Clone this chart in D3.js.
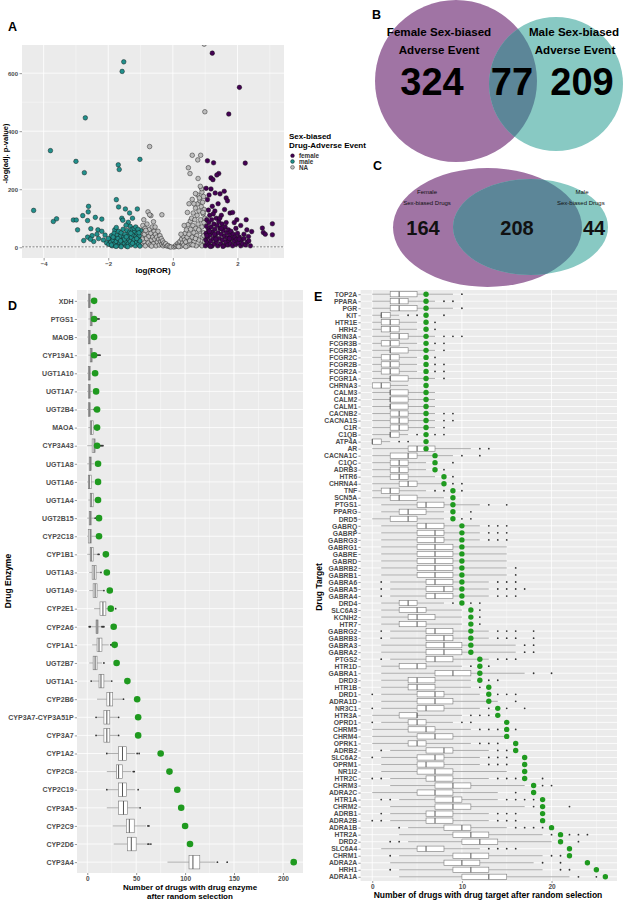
<!DOCTYPE html>
<html><head><meta charset="utf-8">
<script src="https://cdn.jsdelivr.net/npm/d3@7"></script>
<style>body{margin:0;background:#fff}svg{display:block}</style>
</head><body><svg id="c" width="625" height="900"></svg>
<script>
// ---------------- DATA ----------------
// Panel A: volcano points [log(ROR), -log(adj p)]
const volcanoMale = [[-1.52,639],[-1.57,606],[-2.71,446],[-3.79,333],[-3.0,296],[-2.74,257],[-1.69,284],[-1.66,268],[-1.02,303],[-4.31,127],[-3.7,89],[-3.6,98],[-3.08,94],[-2.99,94],[-2.95,60],[-2.61,141],[-2.62,122],[-2.79,109],[-2.64,92],[-2.4,103],[-2.2,97],[-2.54,64],[-2.32,60],[-2.76,23],[-2.64,35],[-1.75,164],[-1.68,139],[-1.47,132],[-1.34,118],[-1.1,132],[-1.58,100],[-1.55,93],[-1.8,60],[-1.75,68],[-1.38,86],[-1.32,72],[-1.45,76],[-1.25,100],[-2.5,40],[-2.45,20],[-2.3,30],[-2.35,45],[-2.15,25],[-2.1,42],[-2.05,15],[-2.55,28],[-2.2,55],
[-1.98,10],[-1.95,28],[-1.9,40],[-1.92,18],[-1.88,5],[-1.85,25],[-1.82,48],[-1.8,12],[-1.78,32],[-1.75,20],[-1.72,42],[-1.7,6],[-1.68,55],[-1.66,28],[-1.64,15],[-1.62,38],[-1.6,50],[-1.58,8],[-1.56,24],[-1.54,62],[-1.52,35],[-1.5,14],[-1.48,45],[-1.46,22],[-1.44,4],[-1.42,58],[-1.4,30],[-1.38,12],[-1.36,40],[-1.34,52],[-1.32,20],[-1.3,8],[-1.28,34],[-1.26,62],[-1.24,44],[-1.22,15],[-1.2,26],[-1.18,55],[-1.16,5],[-1.14,38],[-1.12,18],[-1.1,48],[-1.08,28],[-1.06,10],[-1.04,40],[-1.02,22],[-1.0,58],[-1.02,4],[-1.2,65],[-1.3,48],[-1.5,28],[-1.7,30],[-1.6,2],[-1.85,35],[-1.15,70],[-1.08,62],[-1.9,8],[-2.0,30],[-1.76,3],[-1.4,2],[-1.25,14],[-1.12,30],[-1.05,50],[-1.44,36],[-1.62,22]];
const volcanoNA = [[-0.98,12],[-0.96,35],[-0.95,55],[-0.93,75],[-0.9,20],[-0.88,45],[-0.86,65],[-0.85,5],[-0.82,30],[-0.8,80],[-0.78,52],[-0.76,15],[-0.74,38],[-0.72,62],[-0.7,8],[-0.68,48],[-0.66,25],[-0.64,70],[-0.62,35],[-0.6,12],[-0.58,55],[-0.56,28],[-0.54,45],[-0.52,5],[-0.5,35],[-0.48,18],[-0.46,55],[-0.44,28],[-0.42,8],[-0.4,40],[-0.38,20],[-0.36,30],[-0.34,10],[-0.32,22],[-0.3,5],[-0.28,15],[-0.25,8],[-0.22,12],[-0.18,4],[-0.15,6],[-0.1,2],[-0.06,1],[-0.77,122],[-0.68,109],[-0.72,112],[-0.34,112],[-0.72,347],[-0.9,95],[-0.6,88],[-0.55,70],[-0.95,28],[-0.84,58],[-0.66,4],
[0.03,1],[0.08,3],[0.1,8],[0.14,5],[0.16,14],[0.2,10],[0.22,20],[0.25,4],[0.27,28],[0.3,15],[0.32,38],[0.34,8],[0.36,25],[0.38,48],[0.4,18],[0.42,60],[0.44,35],[0.46,5],[0.47,78],[0.5,45],[0.52,22],[0.54,90],[0.55,62],[0.57,10],[0.58,100],[0.6,35],[0.62,75],[0.63,118],[0.65,50],[0.66,20],[0.68,95],[0.7,135],[0.71,65],[0.72,5],[0.74,40],[0.75,110],[0.77,150],[0.78,80],[0.8,25],[0.81,125],[0.83,55],[0.84,160],[0.86,95],[0.87,10],[0.88,140],[0.9,70],[0.91,35],[0.92,155],[0.94,115],[0.95,50],[0.96,85],[0.97,130],[0.98,20],[0.99,100],[0.5,150],[0.6,165],[0.77,180],[0.9,190],[0.89,202],[0.78,237],[0.48,274],[0.53,254],[0.77,301],[0.6,317],[0.86,317],[0.99,467],[0.97,700],[0.85,210],[0.7,185],[0.45,120],[0.35,75],[0.25,45],[0.65,150],[0.82,170],[0.95,175],[0.9,5],[0.96,40],[0.62,8],[0.4,2],[0.18,2],[0.7,30],[0.8,60],[0.93,120]];
const volcanoFemale = [[1.22,669],[2.06,551],[1.73,459],[2.24,290],[1.07,298],[1.26,291],[1.42,254],[1.36,249],[1.18,239],[1.24,233],[1.03,203],[1.18,201],[1.31,187],[1.46,184],[1.59,193],[1.65,170],[1.69,160],[1.07,164],[1.22,141],[1.77,118],[1.98,95],[2.27,95],[2.29,60],[2.44,54],[2.77,66],[2.8,51],[2.86,45],[3.08,81],[3.08,43],[2.34,37],[1.85,120],[1.6,130],[1.4,150],[1.12,180],[1.5,110],[1.3,125],[1.9,85],[2.1,75],[2.2,45],
[1.01,5],[1.02,25],[1.03,48],[1.04,72],[1.05,95],[1.06,15],[1.08,35],[1.1,60],[1.11,85],[1.12,8],[1.14,110],[1.15,42],[1.17,22],[1.18,70],[1.2,95],[1.21,4],[1.23,52],[1.25,30],[1.27,80],[1.28,12],[1.3,62],[1.32,40],[1.34,100],[1.35,20],[1.37,75],[1.39,5],[1.4,50],[1.42,88],[1.44,30],[1.46,65],[1.48,12],[1.5,45],[1.52,80],[1.54,25],[1.56,58],[1.58,6],[1.6,38],[1.62,70],[1.64,18],[1.66,50],[1.68,32],[1.7,8],[1.72,60],[1.74,22],[1.76,42],[1.78,12],[1.8,55],[1.83,30],[1.85,5],[1.87,45],[1.9,20],[1.92,35],[1.95,10],[1.98,28],[2.0,48],[2.03,15],[2.06,35],[2.1,5],[2.12,25],[2.16,12],[2.2,30],[2.25,8],[2.3,18],[2.35,22],[2.4,5],[1.1,128],[1.25,115],[1.45,100],[1.65,85],[1.95,65],[1.05,40],[1.16,3],[1.33,28],[1.55,3],[1.75,30],[2.05,28],[1.13,55],[1.29,45],[1.5,65]];
const volcanoGroups = ["female","male","NA"];
const volcanoColors = ["#440154","#21908C","#bdbdbd"];
const volcanoXTicks = [-4,-2,0,2];
const volcanoYTicks = [0,200,400,600];

// Panel B / C: Venn counts [female only, both, male only]
const vennBCounts = [324, 77, 209];
const vennCCounts = [164, 208, 44];

// Panel D
const enzymeNames = ["XDH","PTGS1","MAOB","CYP19A1","UGT1A10","UGT1A7","UGT2B4","MAOA","CYP3A43","UGT1A8","UGT1A6","UGT1A4","UGT2B15","CYP2C18","CYP1B1","UGT1A3","UGT1A9","CYP2E1","CYP2A6","CYP1A1","UGT2B7","UGT1A1","CYP2B6","CYP3A7-CYP3A51P","CYP3A7","CYP1A2","CYP2C8","CYP2C19","CYP3A5","CYP2C9","CYP2D6","CYP3A4"];
const enzymeObserved = [7,7,7,7,8,9,10,10,10,11,11,11,12,12,19,20,23,24,27,28,30,41,51,52,52,75,84,92,96,100,105,211];
const enzymeBoxes = [[0,1,2,3,4],[1,3,4,5,8],[0,1,2,3,5],[1,3,4,5,8],[0,1,2,3,4],[0,1,2,3,5],[0,1,2,3,6],[1,3,4,6,9],[0,5,7,8,12],[0,2,3,4,7],[0,1,2,4,7],[1,3,4,6,9],[0,2,3,4,7],[0,1,3,4,9],[0,3,4,6,10],[2,5,7,9,13],[2,6,8,10,16],[7,13,16,19,27],[4,9,10,11,14],[5,10,12,15,22],[2,6,8,10,15],[5,12,14,17,24],[10,20,23,26,36],[10,17,20,23,31],[10,17,20,23,31],[21,32,36,40,49],[20,30,32,36,45],[21,32,36,40,49],[20,32,37,41,53],[26,40,43,48,60],[27,41,45,50,61],[82,104,108,115,131]];
const enzymeOutliers = [[],[9,10,11,12],[],[9,10,11,12,13],[],[],[7,8,9],[],[13,14,15,16],[],[],[],[8,9,10,11],[],[11,12],[14],[17],[29],[2,3,15,16,17],[24,25],[17],[4,25],[37],[9,32],[9,32],[20,51,53],[47,48],[20,52],[54],[62,63],[62,63,65],[133,143]];
const enzymeXTicks = [0,50,100,150,200];

// Panel E
const targetNames = ["TOP2A","PPARA","PGR","KIT","HTR1E","HRH2","GRIN3A","FCGR3B","FCGR3A","FCGR2C","FCGR2B","FCGR2A","FCGR1A","CHRNA3","CALM3","CALM2","CALM1","CACNB2","CACNA1S","C1R","C1QB","ATP4A","AR","CACNA1C","C1QC","ADRB3","HTR6","CHRNA4","TNF","SCN5A","PTGS1","PPARG","DRD5","GABRQ","GABRP","GABRG3","GABRG1","GABRE","GABRD","GABRB2","GABRB1","GABRA6","GABRA5","GABRA4","DRD4","SLC6A3","KCNH2","HTR7","GABRG2","GABRB3","GABRA3","GABRA2","PTGS2","HTR1D","GABRA1","DRD3","HTR1B","DRD1","ADRA1D","NR3C1","HTR3A","OPRD1","CHRM5","CHRM4","OPRK1","ADRB2","SLC6A2","OPRM1","NR1I2","HTR2C","CHRM3","ADRA2C","HTR1A","CHRM2","ADRB1","ADRA2B","ADRA1B","HTR2A","DRD2","SLC6A4","CHRM1","ADRA2A","HRH1","ADRA1A"];
const targetObserved = [6,6,6,6,6,6,6,6,6,6,6,6,6,6,6,6,6,6,6,6,6,6,6,7,7,7,8,8,9,9,9,9,9,10,10,10,10,10,10,10,10,10,10,10,10,11,11,11,11,11,11,11,12,12,12,12,13,13,13,14,14,15,15,15,16,16,17,17,17,17,18,18,19,19,19,19,20,21,21,22,22,24,25,26];
const targetBoxes = [[0,2,3,5,9],[0,2,3,4,7],[0,2,3,5,9],[0,1,1,2,3],[0,1,2,3,5],[0,1,2,3,5],[0,2,3,4,7],[0,1,2,3,5],[0,2,2,4,7],[0,1,2,3,5],[0,1,2,3,5],[0,1,2,3,5],[0,2,2,4,7],[0,0,1,2,4],[0,2,2,4,7],[0,2,2,4,7],[0,2,2,4,7],[0,2,3,4,7],[0,2,3,4,7],[0,2,3,4,7],[0,2,2,3,4],[0,0,0,1,2],[0,4,5,7,11],[0,2,4,5,9],[0,2,3,4,6],[0,2,3,4,6],[0,2,3,4,7],[0,3,4,5,8],[0,1,2,3,6],[0,2,3,5,8],[1,5,6,8,12],[1,3,4,6,8],[0,2,4,5,8],[1,5,6,8,12],[1,5,7,8,12],[1,5,7,8,12],[1,5,7,9,15],[1,5,7,9,15],[1,5,7,9,15],[1,5,7,9,15],[1,5,7,9,15],[2,6,7,9,13],[2,6,8,9,13],[2,6,7,9,13],[1,3,4,5,8],[1,3,5,6,10],[1,4,5,7,10],[1,3,5,6,10],[2,6,7,9,13],[2,6,8,9,13],[1,6,8,10,16],[1,6,8,10,16],[2,6,7,9,13],[1,3,5,6,10],[1,7,9,11,17],[1,4,5,7,11],[1,4,5,7,11],[1,5,7,8,12],[1,5,7,9,14],[1,5,6,8,12],[0,3,5,5,10],[1,4,5,6,9],[0,4,6,7,11],[0,5,7,9,15],[0,4,5,6,11],[2,6,8,9,13],[1,5,7,8,12],[1,5,6,8,12],[1,5,7,9,15],[2,6,7,9,13],[2,7,9,11,17],[0,5,7,9,14],[3,7,9,10,14],[2,7,9,11,17],[2,6,7,9,13],[2,6,7,9,13],[4,8,10,11,15],[3,9,11,13,19],[4,10,12,14,20],[1,5,6,8,12],[3,9,11,13,19],[2,8,10,12,18],[3,9,11,13,19],[3,10,13,15,22]];
const targetOutliers = [[10],[8,9],[10],[4,5,8],[7],[7],[8,9,10],[7,8],[8],[7],[7,8],[7,8],[8],[],[],[],[],[8,9],[8,9],[8],[5,7,8],[3,4],[12,13],[10,12],[9],[8],[9],[9,10],[7,8,10],[],[13,15],[11],[10,11],[13,14,15],[13,14,15],[13,14,15],[],[],[],[16],[16],[1,14,15,16],[1,14,15,16,17],[1,14,15,16],[9,11,12],[12],[12],[12],[1,14,15,16,18],[1,14,15,16,18],[17,18],[17,18],[1,14,15,16],[11,13],[18,20],[13,14],[12],[0,14,15,16],[16],[0,13,15,17],[11,12,13],[0,10,11],[12,13,14,16],[],[12,13,14],[1,14,15],[0,13,14,15],[13,14,15],[],[0,1,14,15,16,19],[19,20],[16],[1,2,15,16,17,18],[18,22],[1,14,15,16],[0,1,14,15,16],[3,16,17,18,19],[20,22,23,24],[2,3,23],[13,14,15,16],[2,20,21],[19,21],[2,21,22],[23,25]];
const targetXTicks = [0,10,20];

// ---------------- DRAWING ----------------
const FONT = '"Liberation Sans", Arial, Helvetica, sans-serif';
const svg = d3.select("#c").attr("font-family", FONT);
const BG = "#ebebeb", AXT = "#4d4d4d", GREEN = "#1f9a1f";

function styleAxis(g, fs) {
  g.select(".domain").remove();
  g.selectAll(".tick line").attr("stroke", "#333").attr("stroke-width", 0.5);
  g.selectAll(".tick text").attr("fill", AXT).attr("font-size", fs).attr("font-weight", "bold").attr("font-family", FONT);
}
function label(x, y, t) {
  svg.append("text").attr("x", x).attr("y", y).attr("font-size", 12.5).attr("font-weight", "bold").text(t);
}
function vlines(g, xs, vals, y0, y1, w) {
  g.selectAll(null).data(vals).join("line").attr("x1", d => xs(d)).attr("x2", d => xs(d))
    .attr("y1", y0).attr("y2", y1).attr("stroke", "#fff").attr("stroke-width", w);
}
function hlines(g, ys, vals, x0, x1, w) {
  g.selectAll(null).data(vals).join("line").attr("y1", d => ys(d)).attr("y2", d => ys(d))
    .attr("x1", x0).attr("x2", x1).attr("stroke", "#fff").attr("stroke-width", w);
}

// ----- Panel A -----
{
  const L = 22, R = 284, T = 45, B = 258;
  const x = d3.scaleLinear().domain([-4.67, 3.44]).range([L, R]);
  const y = d3.scaleLinear().domain([-37, 697]).range([B, T]);
  const g = svg.append("g");
  g.append("rect").attr("x", L).attr("y", T).attr("width", R - L).attr("height", B - T).attr("fill", BG);
  vlines(g, x, [-3, -1, 1, 3], T, B, 0.4);
  hlines(g, y, [100, 300, 500], L, R, 0.4);
  vlines(g, x, volcanoXTicks, T, B, 0.8);
  hlines(g, y, volcanoYTicks, L, R, 0.8);
  svg.append("clipPath").attr("id", "clipA").append("rect").attr("x", L).attr("y", T).attr("width", R - L).attr("height", B - T);
  g.append("line").attr("x1", L).attr("x2", R).attr("y1", y(1.3)).attr("y2", y(1.3))
    .attr("stroke", "#333").attr("stroke-width", 0.6).attr("stroke-dasharray", "2,1.5");
  const pg = g.append("g").attr("clip-path", "url(#clipA)");
  [[volcanoNA, volcanoColors[2]], [volcanoMale, volcanoColors[1]], [volcanoFemale, volcanoColors[0]]].forEach(([pts, col]) => {
    pg.selectAll(null).data(pts).join("circle").attr("cx", d => x(d[0])).attr("cy", d => y(d[1]))
      .attr("r", 2.3).attr("fill", col).attr("stroke", "#111").attr("stroke-width", 0.45);
  });
  const ax = svg.append("g").attr("transform", `translate(0,${B})`).call(d3.axisBottom(x).tickValues(volcanoXTicks).tickSize(2.5).tickPadding(1.5));
  styleAxis(ax, 6);
  const ay = svg.append("g").attr("transform", `translate(${L},0)`).call(d3.axisLeft(y).tickValues(volcanoYTicks).tickSize(2.5).tickPadding(1.5));
  styleAxis(ay, 6);
  svg.append("text").attr("x", (L + R) / 2).attr("y", 273).attr("text-anchor", "middle").attr("font-size", 8).attr("font-weight", "bold").text("log(ROR)");
  svg.append("text").attr("transform", `translate(7.5,${(T + B) / 2 + 2}) rotate(-90)`).attr("text-anchor", "middle").attr("font-size", 7.5).attr("font-weight", "bold").text("-log(adj. p-value)");
  // legend
  svg.append("text").attr("x", 289).attr("y", 139).attr("font-size", 8).attr("font-weight", "bold").text("Sex-biased");
  svg.append("text").attr("x", 289).attr("y", 148).attr("font-size", 8).attr("font-weight", "bold").text("Drug-Adverse Event");
  volcanoGroups.forEach((gname, i) => {
    svg.append("circle").attr("cx", 292.5).attr("cy", 155.7 + i * 5.8).attr("r", 1.9).attr("fill", volcanoColors[i]).attr("stroke", "#111").attr("stroke-width", 0.4);
    svg.append("text").attr("x", 299).attr("y", 157.9 + i * 5.8).attr("font-size", 6.3).attr("font-weight", "bold").attr("fill", "#333").text(gname);
  });
  label(8, 31, "A");
}

// ----- Venn B & C -----
const PURPLE = "#a074a4", TEAL = "#88c9c3", OVER = "#5c8698";
{
  const defs = svg.append("defs");
  defs.append("clipPath").attr("id", "clipBteal").append("circle").attr("cx", 556).attr("cy", 84).attr("r", 67);
  svg.append("circle").attr("cx", 456).attr("cy", 81).attr("r", 81).attr("fill", PURPLE);
  svg.append("circle").attr("cx", 556).attr("cy", 84).attr("r", 67).attr("fill", TEAL);
  svg.append("circle").attr("cx", 456).attr("cy", 81).attr("r", 81).attr("fill", OVER).attr("clip-path", "url(#clipBteal)");
  const t = (x, y, s, fs) => svg.append("text").attr("x", x).attr("y", y).attr("text-anchor", "middle").attr("font-size", fs).attr("font-weight", "bold").attr("fill", "#000").text(s);
  t(439, 36, "Female Sex-biased", 11.6);
  t(439, 54.3, "Adverse Event", 11.6);
  t(574, 36, "Male Sex-biased", 11.6);
  t(575, 54.3, "Adverse Event", 11.6);
  t(432, 94.5, vennBCounts[0], 38);
  t(512, 94.5, vennBCounts[1], 38);
  t(582, 94.5, vennBCounts[2], 38);
  label(372, 19, "B");

  defs.append("clipPath").attr("id", "clipCteal").append("ellipse").attr("cx", 530.5).attr("cy", 227).attr("rx", 77.5).attr("ry", 48);
  defs.append("clipPath").attr("id", "clipCarea").append("rect").attr("x", 370).attr("y", 160).attr("width", 243).attr("height", 135);
  const gc = svg.append("g").attr("clip-path", "url(#clipCarea)");
  gc.append("ellipse").attr("cx", 487.5).attr("cy", 227.5).attr("rx", 94.5).attr("ry", 59.5).attr("fill", PURPLE);
  gc.append("ellipse").attr("cx", 530.5).attr("cy", 227).attr("rx", 77.5).attr("ry", 48).attr("fill", TEAL);
  gc.append("ellipse").attr("cx", 487.5).attr("cy", 227.5).attr("rx", 94.5).attr("ry", 59.5).attr("fill", OVER).attr("clip-path", "url(#clipCteal)");
  const tc = (x, y, s, fs, anchor, w) => gc.append("text").attr("x", x).attr("y", y).attr("text-anchor", anchor).attr("font-size", fs).attr("font-weight", w).attr("fill", "#111").text(s);
  tc(427, 194.3, "Female", 6, "middle", "normal");
  tc(427, 204.8, "Sex-biased Drugs", 6, "middle", "normal");
  tc(582, 194.3, "Male", 6, "middle", "normal");
  tc(557, 204.8, "Sex-biased Drugs", 6, "start", "normal");
  tc(423, 234.5, vennCCounts[0], 20, "middle", "bold");
  tc(517, 234.5, vennCCounts[1], 20, "middle", "bold");
  tc(594, 234.5, vennCCounts[2], 20, "middle", "bold");
  label(373, 170, "C");
}

// ----- Box panels -----
function boxPanel(cfg) {
  const { L, R, T, B, domain, names, boxes, outliers, observed, ticks, minor, boxFrac, dotR, labFs, tickFs } = cfg;
  const x = d3.scaleLinear().domain(domain).range([L, R]);
  const y = d3.scalePoint().domain(names).range([T, B]).padding(0.6);
  const bh = y.step() * boxFrac;
  const g = svg.append("g");
  g.append("rect").attr("x", L).attr("y", T).attr("width", R - L).attr("height", B - T).attr("fill", BG);
  vlines(g, x, minor, T, B, 0.4);
  vlines(g, x, ticks, T, B, 0.8);
  hlines(g, y, names, L, R, 0.8);
  const rows = names.map((n, i) => ({ n, b: boxes[i], o: outliers[i], v: observed[i] }));
  const rg = g.selectAll(null).data(rows).join("g").attr("transform", d => `translate(0,${y(d.n)})`);
  rg.append("line").attr("x1", d => x(d.b[0])).attr("x2", d => x(d.b[1])).attr("stroke", "#7a7a7a").attr("stroke-width", 0.6);
  rg.append("line").attr("x1", d => x(d.b[3])).attr("x2", d => x(d.b[4])).attr("stroke", "#7a7a7a").attr("stroke-width", 0.6);
  rg.append("rect").attr("x", d => x(d.b[1])).attr("width", d => Math.max(0.5, x(d.b[3]) - x(d.b[1])))
    .attr("y", -bh / 2).attr("height", bh).attr("fill", "#fff").attr("stroke", "#7a7a7a").attr("stroke-width", 0.6);
  rg.append("line").attr("x1", d => x(d.b[2])).attr("x2", d => x(d.b[2])).attr("y1", -bh / 2).attr("y2", bh / 2).attr("stroke", "#555").attr("stroke-width", 1);
  rg.selectAll(".o").data(d => d.o).join("circle").attr("cx", d => x(d)).attr("cy", 0).attr("r", 0.9).attr("fill", "#333");
  rg.append("circle").attr("cx", d => x(d.v)).attr("cy", 0).attr("r", dotR).attr("fill", GREEN);
  const ax = svg.append("g").attr("transform", `translate(0,${B})`).call(d3.axisBottom(x).tickValues(ticks).tickSize(2).tickPadding(1));
  styleAxis(ax, tickFs);
  const ay = svg.append("g").attr("transform", `translate(${L},0)`).call(d3.axisLeft(y).tickSize(2.2).tickPadding(1.2));
  styleAxis(ay, labFs);
  return { x, y };
}

boxPanel({ L: 77, R: 303, T: 290, B: 873, domain: [-10.5, 220.5], names: enzymeNames, boxes: enzymeBoxes, outliers: enzymeOutliers,
  observed: enzymeObserved, ticks: enzymeXTicks, minor: [25, 75, 125, 175], boxFrac: 0.75, dotR: 3.3, labFs: 7, tickFs: 6.5 });
svg.append("text").attr("x", 190).attr("y", 889.5).attr("text-anchor", "middle").attr("font-size", 8).attr("font-weight", "bold").text("Number of drugs with drug enzyme");
svg.append("text").attr("x", 190).attr("y", 898.8).attr("text-anchor", "middle").attr("font-size", 8).attr("font-weight", "bold").text("after random selection");
svg.append("text").attr("transform", `translate(11,581) rotate(-90)`).attr("text-anchor", "middle").attr("font-size", 8.5).attr("font-weight", "bold").text("Drug Enzyme");
label(8, 310, "D");

boxPanel({ L: 360.6, R: 617, T: 290, B: 881, domain: [-1.3, 27.3], names: targetNames, boxes: targetBoxes, outliers: targetOutliers,
  observed: targetObserved, ticks: targetXTicks, minor: [5, 15, 25], boxFrac: 0.75, dotR: 2.7, labFs: 6.8, tickFs: 6.5 });
svg.append("text").attr("x", 488).attr("y", 898).attr("text-anchor", "middle").attr("font-size", 8.5).attr("font-weight", "bold").text("Number of drugs with drug target after random selection");
svg.append("text").attr("transform", `translate(322,587) rotate(-90)`).attr("text-anchor", "middle").attr("font-size", 8.5).attr("font-weight", "bold").text("Drug Target");
label(314, 301, "E");
</script></body></html>
